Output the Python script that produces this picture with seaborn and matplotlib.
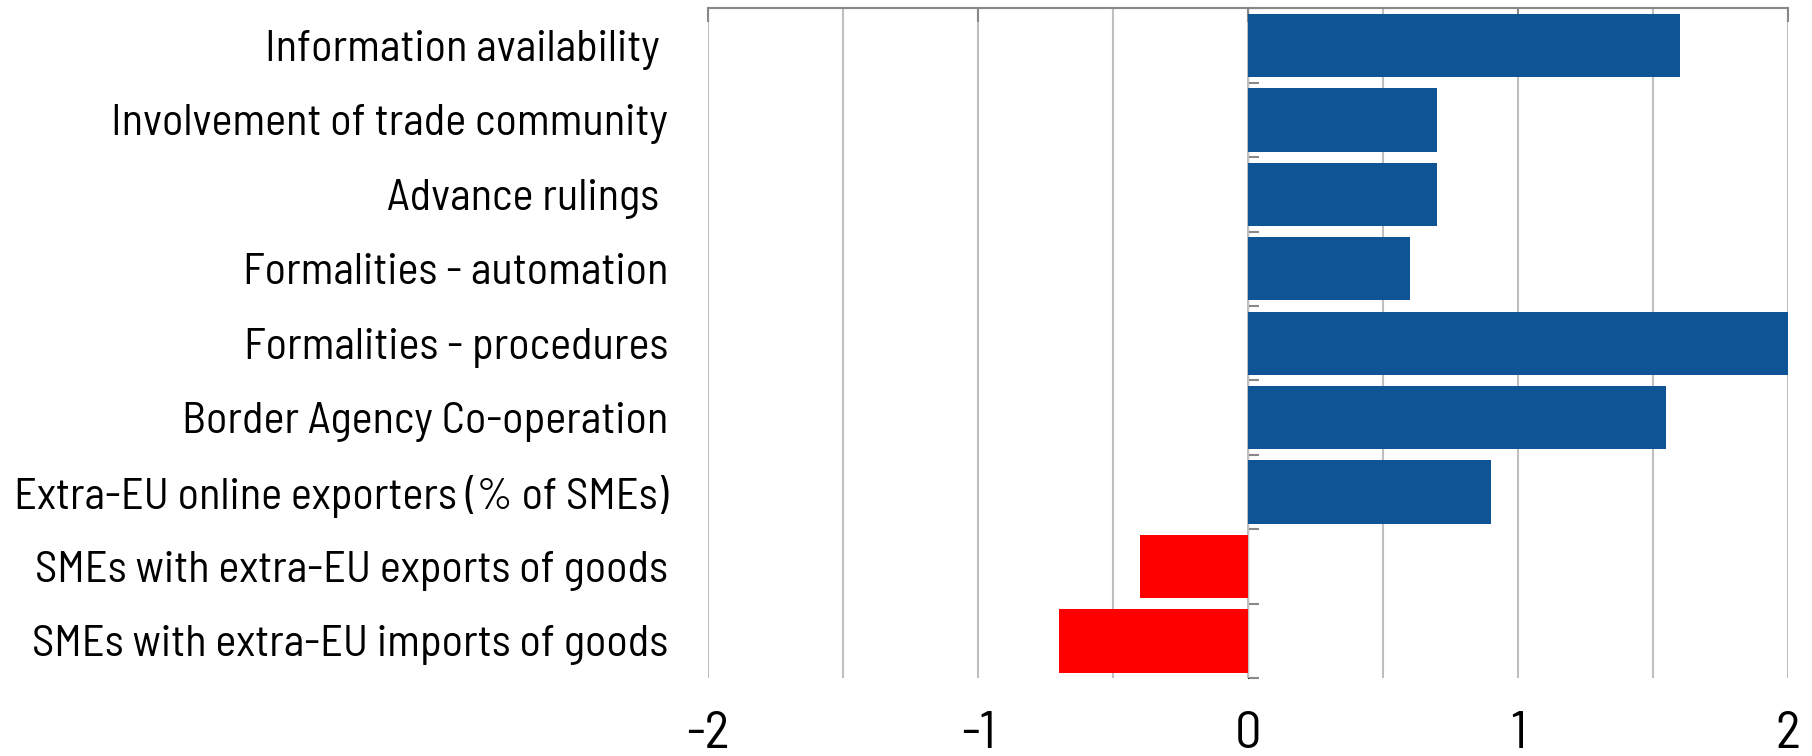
import numpy as np
import pandas as pd
import matplotlib
matplotlib.use("Agg")
import matplotlib.pyplot as plt
import seaborn as sns

categories = [
    "Information availability ",
    "Involvement of trade community",
    "Advance rulings ",
    "Formalities - automation",
    "Formalities - procedures",
    "Border Agency Co-operation",
    "Extra-EU online exporters (% of SMEs)",
    "SMEs with extra-EU exports of goods",
    "SMEs with extra-EU imports of goods",
]
values = [1.6, 0.7, 0.7, 0.6, 2.0, 1.55, 0.9, -0.4, -0.7]
x_ticks = [-2, -1, 0, 1, 2]
x_tick_labels = ["-2", "-1", "0", "1", "2"]

blue = "#0F5494"
red = "#FF0000"

df = pd.DataFrame({"category": categories, "value": values})
df["sign"] = np.where(df["value"] >= 0, "pos", "neg")

sns.set_style("white")
plt.rcParams["font.family"] = ["Barlow Semi Condensed", "Barlow Condensed", "DejaVu Sans"]
plt.rcParams["axes.unicode_minus"] = False
plt.rcParams["text.color"] = "black"
plt.rcParams["xtick.color"] = "black"
plt.rcParams["ytick.color"] = "black"

fig = plt.figure(figsize=(18.12, 7.56), dpi=100)
ax = fig.add_axes([0.3909, 0.103, 0.5957, 0.886])

sns.barplot(data=df, x="value", y="category", hue="sign",
            palette={"pos": blue, "neg": red}, dodge=False,
            width=0.85, legend=False, ax=ax, saturation=1, linewidth=0)

ax.set_xlim(-2, 2)
ax.set_ylim(8.5, -0.5)
ax.set_xlabel("")
ax.set_ylabel("")

# gridlines every 0.5
ax.set_xticks(x_ticks)
ax.set_xticklabels(x_tick_labels, fontsize=38)
ax.set_xticks(np.arange(-1.5, 2, 1), minor=True)
ax.grid(axis="x", which="both", color="#BFBFBF", lw=1.5)
ax.set_axisbelow(True)
ax.tick_params(axis="x", which="major", top=True, bottom=False,
               labeltop=False, labelbottom=True, direction="in",
               length=10, width=1.5, color="#888888", pad=24)
ax.tick_params(axis="x", which="minor", top=False, bottom=False, length=0)

ax.tick_params(axis="y", which="major", left=False, length=0,
               labelsize=32, pad=29)

for side in ["left", "right", "bottom"]:
    ax.spines[side].set_visible(False)
ax.spines["top"].set_color("#888888")
ax.spines["top"].set_linewidth(1.5)

# vertical axis at zero with ticks between categories
sec = ax.secondary_yaxis(0.5)
sec.set_yticks(np.arange(-0.5, 9, 1))
sec.set_yticklabels([])
sec.tick_params(axis="y", length=8, width=1.5, color="#888888")
sec.spines["left"].set_color("#999999")
sec.spines["left"].set_linewidth(1.5)

fig.savefig("out.png", dpi=100)
